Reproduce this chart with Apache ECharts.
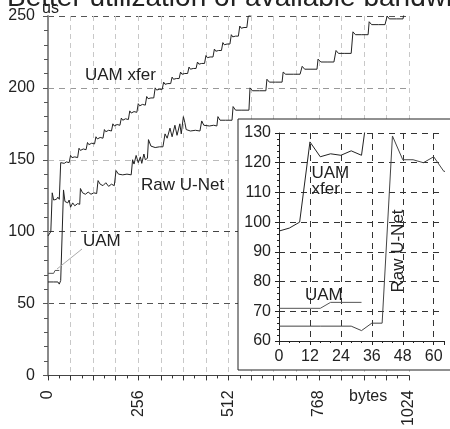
<!DOCTYPE html>
<html>
<head>
<meta charset="utf-8">
<script src="https://cdn.jsdelivr.net/npm/echarts@6/dist/echarts.min.js"></script>
<style>
  html, body { margin: 0; padding: 0; background: #fff; }
  #chart { width: 450px; height: 429px; }
</style>
</head>
<body>
<div id="chart"></div>
<script>
// message size (bytes) vs round-trip time (us)
const xLabelValues = [0, 256, 512, 768, 1024];
const insetXLabelValues = [0, 12, 24, 36, 48, 60];

const uamXfer = [
  [0, 97], [4, 98], [8, 100], [12, 127], [16, 122], [20, 123], [24, 122.5], [28, 124], [32, 122.5],
  [36, 148], [40, 149], [46, 147.5], [52, 148.5], [60, 148],
  [64, 153], [68, 151.5], [76, 152], [84, 151.5],
  [88, 158], [92, 156.5], [100, 157.5], [108, 157],
  [112, 162], [116, 160.5], [124, 161.5], [132, 161],
  [136, 166], [140, 164.5], [148, 165.5], [156, 165],
  [160, 171], [164, 169.5], [172, 170.5], [180, 170],
  [184, 175], [188, 173.5], [196, 174.5], [204, 174],
  [208, 179], [212, 177.5], [220, 178.5], [228, 178],
  [232, 184], [236, 182.5], [244, 183.5], [252, 183],
  [256, 189], [260, 187.5], [268, 188.5], [276, 188],
  [280, 194], [284, 192.5], [292, 193], [300, 193],
  [304, 200], [308, 198.5], [316, 199], [324, 199],
  [328, 204], [332, 202.5], [340, 203], [348, 203],
  [352, 207.5], [356, 206], [364, 206.5], [372, 206.5],
  [376, 211], [380, 209.5], [388, 210], [396, 210],
  [400, 214.5], [404, 213], [412, 213.5], [420, 213.5],
  [424, 218], [428, 216.5], [436, 217], [444, 217],
  [448, 222.5], [452, 221], [460, 221.5], [468, 221.5],
  [472, 227], [476, 225.5], [484, 226], [492, 226],
  [496, 231.5], [500, 230], [508, 230.5], [516, 230.5],
  [520, 237], [524, 235.5], [532, 236], [540, 236],
  [544, 243], [548, 241.5], [556, 242], [564, 242],
  [568, 250], [572, 249], [580, 251], [590, 252]
];

const rawUNet = [
  [0, 65], [16, 65], [28, 65], [32, 63.5], [36, 66], [40, 66], [44, 129], [48, 121], [52, 121],
  [56, 120], [60, 122], [64, 117], [70, 120], [76, 118], [84, 119.5], [90, 119],
  [92, 130], [98, 127], [106, 126], [114, 127.5], [122, 126], [130, 127], [138, 126.5],
  [142, 135.5], [148, 133], [156, 132], [164, 134], [172, 131.5], [180, 133], [188, 132],
  [193, 142.5], [200, 140], [212, 139.5], [224, 140], [236, 139.5],
  [240, 150], [244, 147], [250, 153], [256, 148], [262, 152], [266, 147.5], [272, 154], [276, 150], [282, 151],
  [285, 164], [292, 159.5], [304, 158.5], [316, 159], [326, 159],
  [332, 168], [338, 165], [346, 172], [352, 166], [360, 174], [366, 167], [374, 175], [378, 168],
  [384, 180], [388, 176], [392, 171], [404, 170], [418, 170.5], [431, 170],
  [436, 177], [442, 174], [458, 173.5], [470, 174], [479, 173.5],
  [482, 180], [488, 177.5], [504, 177.5], [522, 177.5],
  [525, 187], [532, 184.5], [550, 184.5], [570, 184.5],
  [573, 200], [580, 198], [600, 198], [618, 198],
  [621, 206], [628, 204], [646, 204], [664, 204],
  [667, 211], [674, 209.5], [696, 209.5], [715, 209.5],
  [721, 215], [728, 213], [746, 213], [763, 213],
  [766, 220], [774, 218], [794, 218], [811, 218],
  [817, 226], [824, 224], [842, 224], [860, 224],
  [865, 239], [872, 237], [890, 237], [908, 237],
  [911, 246], [918, 244], [938, 244], [956, 244],
  [962, 250], [968, 248], [988, 248], [1007, 248],
  [1010, 252], [1024, 252]
];

const uam = [[0, 71], [16, 71], [20, 73], [32, 73]];

const FONT = '"Liberation Sans", Arial, sans-serif';
const TEXT = '#222';

const chart = echarts.init(document.getElementById('chart'), null, { renderer: 'canvas' });

function line(name, data, axis, color, z) {
  return {
    name: name,
    type: 'line',
    data: data,
    xAxisIndex: axis,
    yAxisIndex: axis,
    showSymbol: false,
    symbol: 'none',
    z: z,
    lineStyle: { color: color, width: 1 },
    emphasis: { disabled: true }
  };
}

function label(text, x, y, size, extra) {
  return Object.assign({
    type: 'text',
    x: x,
    y: y,
    z: 20,
    style: {
      text: text,
      fill: TEXT,
      font: size + 'px ' + FONT,
      verticalAlign: 'middle'
    }
  }, extra || {});
}

const option = {
  animation: false,
  backgroundColor: '#fff',
  textStyle: { fontFamily: FONT },
  grid: [
    { left: 48, right: 41, top: 16, bottom: 51 },
    { left: 279, right: 6, top: 133, bottom: 88 }
  ],
  xAxis: [
    {
      type: 'value',
      gridIndex: 0,
      min: 0,
      max: 1024,
      interval: 64,
      axisLine: { lineStyle: { color: '#444', width: 1 } },
      axisTick: { show: true, length: 5, lineStyle: { color: '#333' } },
      minorTick: { show: true, splitNumber: 2, length: 3, lineStyle: { color: '#333' } },
      axisLabel: {
        rotate: 90,
        margin: 15,
        fontSize: 16,
        color: TEXT,
        fontFamily: FONT,
        formatter: (v) => (xLabelValues.includes(v) ? String(v) : '')
      },
      splitLine: { show: true, lineStyle: { type: [5, 4], color: '#c8c8c8' } }
    },
    {
      type: 'value',
      gridIndex: 1,
      min: 0,
      max: 64,
      interval: 12,
      z: 6,
      axisLine: { lineStyle: { color: '#222', width: 1 } },
      axisTick: { show: true, length: 4, lineStyle: { color: '#222' } },
      minorTick: { show: true, splitNumber: 3, length: 2, lineStyle: { color: '#222' } },
      axisLabel: {
        margin: 8,
        fontSize: 16,
        color: TEXT,
        fontFamily: FONT,
        formatter: (v) => (insetXLabelValues.includes(v) ? String(v) : '')
      },
      splitLine: { show: true, showMinLine: false, showMaxLine: false, lineStyle: { type: [6, 5], color: '#333' } }
    }
  ],
  yAxis: [
    {
      type: 'value',
      gridIndex: 0,
      min: 0,
      max: 250,
      interval: 50,
      axisLine: { show: true, lineStyle: { color: '#8a8a8a', width: 2 } },
      axisTick: { show: true, length: 5, lineStyle: { color: '#555' } },
      minorTick: { show: true, splitNumber: 5, length: 4, lineStyle: { color: '#555' } },
      axisLabel: { margin: 13, fontSize: 16, color: TEXT, fontFamily: FONT },
      splitLine: {
        show: true,
        showMinLine: false,
        lineStyle: { type: [6, 5], color: ['#555', '#444', '#bbb', '#999', '#555', '#444'] }
      }
    },
    {
      type: 'value',
      gridIndex: 1,
      min: 60,
      max: 130,
      interval: 10,
      z: 6,
      axisLine: { show: true, lineStyle: { color: '#222', width: 1 } },
      axisTick: { show: true, length: 4, lineStyle: { color: '#222' } },
      minorTick: { show: true, splitNumber: 5, length: 2, lineStyle: { color: '#222' } },
      axisLabel: { margin: 8, fontSize: 16, color: TEXT, fontFamily: FONT },
      splitLine: { show: true, showMinLine: false, lineStyle: { type: [6, 5], color: '#333' } }
    }
  ],
  series: [
    line('UAM xfer', uamXfer, 0, '#222', 2),
    line('Raw U-Net', rawUNet, 0, '#222', 2),
    line('UAM', uam, 0, '#555', 2),
    line('UAM xfer', uamXfer, 1, '#222', 7),
    line('Raw U-Net', rawUNet, 1, '#444', 7),
    line('UAM', uam, 1, '#555', 7)
  ],
  graphic: [
    {
      type: 'rect',
      z: 5,
      shape: { x: 238, y: 119, width: 240, height: 251 },
      style: { fill: '#fff', stroke: '#222', lineWidth: 1 }
    },
    {
      type: 'line',
      z: 3,
      shape: { x1: 57, y1: 269, x2: 82, y2: 249 },
      style: { stroke: '#aaa', lineWidth: 1 }
    },
    label('Better utilization of available bandwidth', 7, -2, 28),
    label('us', 42, 9, 16),
    label('bytes', 349, 397, 16),
    label('UAM xfer', 85, 75, 17),
    label('Raw U-Net', 141, 185, 17),
    label('UAM', 83, 241.5, 17),
    label('UAM', 305, 295, 17),
    label('UAM', 311.5, 173, 17),
    label('xfer', 311.5, 189, 17),
    {
      type: 'text',
      x: 398,
      y: 251,
      rotation: Math.PI / 2,
      z: 20,
      style: {
        text: 'Raw U-Net',
        fill: TEXT,
        font: '17px ' + FONT,
        align: 'center',
        verticalAlign: 'middle'
      }
    }
  ]
};

chart.setOption(option);
window.addEventListener('resize', () => chart.resize());
</script>
</body>
</html>
